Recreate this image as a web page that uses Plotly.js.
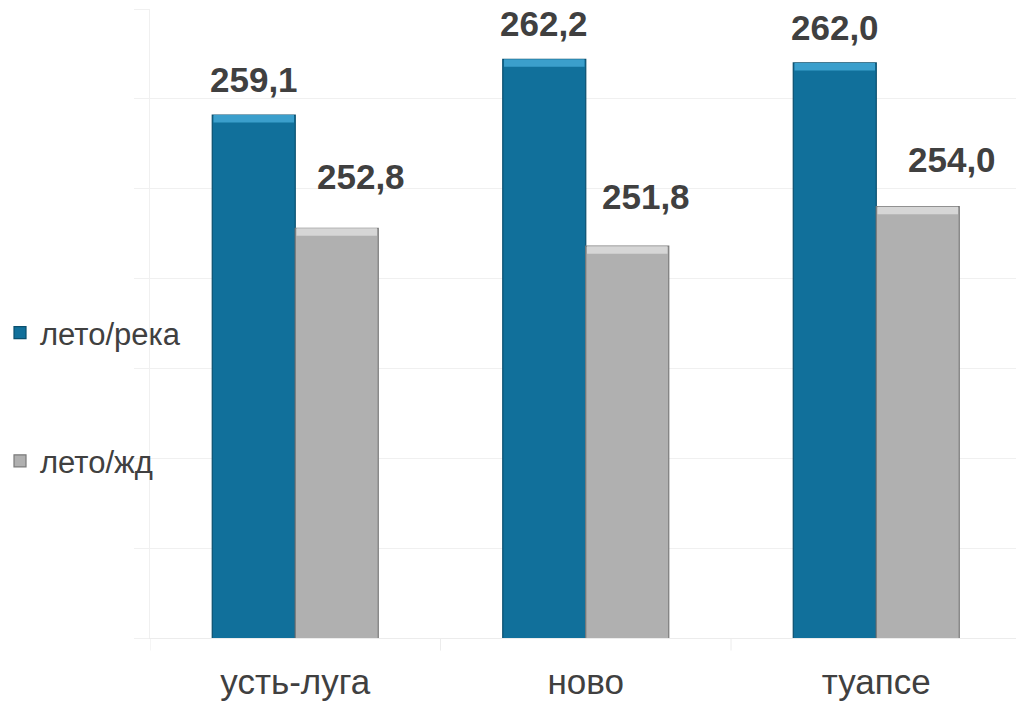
<!DOCTYPE html>
<html>
<head>
<meta charset="utf-8">
<script src="https://cdn.plot.ly/plotly-3.0.1.min.js"></script>
<style>
  html, body { margin: 0; padding: 0; background: #ffffff; }
  #chart { width: 1016px; height: 702px; }
</style>
</head>
<body>
<div id="chart"></div>
<script>
// Ports and summer prices by delivery mode
const categories = ['усть-луга', 'ново', 'туапсе'];
const seriesNames = ['лето/река', 'лето/жд'];
const rekaValues = [259.1, 262.2, 262.0];
const zhdValues = [252.8, 251.8, 254.0];

const FONT = '"Liberation Sans", Arial, sans-serif';
const TEXT = '#404040';
const BAR_W = 0.2857;        // width of one bar in category units
const BEVEL = 0.42;          // height of the lighter top bevel, value units
const ZHD_LABEL_DX = [24, 19, 34];   // horizontal nudge of the grey labels, px
const ZHD_LABEL_DY = [30, 28, 26];   // lift of the grey labels above the bar, px

const xIdx = categories.map((_, i) => i);
const fmt = v => v.toFixed(1).replace('.', ',');

function mainBar(name, values, offset, fill, edge) {
  return {
    type: 'bar', name: name, x: xIdx, y: values,
    width: BAR_W, offset: offset,
    marker: { color: fill, line: { color: edge, width: 1.2 } },
    hoverinfo: 'skip', legendgroup: name
  };
}
function bevelBar(values, offset, fill) {
  return {
    type: 'bar', x: xIdx, y: values.map(() => BEVEL),
    base: values.map(v => v - BEVEL),
    width: BAR_W * 0.97, offset: offset + BAR_W * 0.015,
    marker: { color: fill, line: { width: 0 } },
    showlegend: false, hoverinfo: 'skip'
  };
}

const traces = [
  mainBar(seriesNames[0], rekaValues, -BAR_W, '#11709b', '#0a4f6e'),
  mainBar(seriesNames[1], zhdValues, 0, '#b0b0b0', '#7a7a7a'),
  bevelBar(rekaValues, -BAR_W, '#3b9fcc'),
  bevelBar(zhdValues, 0, '#d6d6d6')
];

// value labels above the bars
const labelFont = { family: FONT, size: 35, color: TEXT, weight: 'bold' };
const annotations = [];
rekaValues.forEach((v, i) => annotations.push({
  x: i - BAR_W / 2, y: v, xref: 'x', yref: 'y', text: fmt(v), showarrow: false,
  yanchor: 'bottom', yshift: 14, font: labelFont
}));
zhdValues.forEach((v, i) => annotations.push({
  x: i + BAR_W / 2, y: v, xref: 'x', yref: 'y', text: fmt(v), showarrow: false,
  yanchor: 'bottom', yshift: ZHD_LABEL_DY[i], xshift: ZHD_LABEL_DX[i], font: labelFont
}));

const layout = {
  width: 1016, height: 702,
  margin: { l: 150, r: 0, t: 9, b: 64 },
  paper_bgcolor: '#ffffff', plot_bgcolor: '#ffffff',
  barmode: 'overlay',
  font: { family: FONT, color: TEXT },
  showlegend: true,
  legend: {
    x: -0.1732, xanchor: 'left', y: 0.528, yanchor: 'top',
    font: { family: FONT, size: 31, color: TEXT },
    tracegroupgap: 85, itemwidth: 30, bgcolor: 'rgba(0,0,0,0)'
  },
  xaxis: {
    range: [-0.5, 2.481], tickmode: 'array', tickvals: xIdx, ticktext: categories,
    tickfont: { family: FONT, size: 35, color: TEXT },
    showgrid: false, zeroline: false, automargin: false,
    showline: true, linecolor: '#ececec', linewidth: 1,
    ticks: '', ticklabelstandoff: 13, fixedrange: true
  },
  yaxis: {
    range: [230, 265], dtick: 5, showticklabels: false,
    showgrid: true, gridcolor: '#f0f0f0', gridwidth: 1, automargin: false,
    zeroline: false, showline: true, linecolor: '#f0f0f0',
    ticks: 'outside', ticklen: 15, tickcolor: '#f0f0f0', fixedrange: true
  },
  // category dividers below the axis
  shapes: [0, 1, 2].map(i => ({
    type: 'line', xref: 'x', yref: 'paper', x0: i - 0.5, x1: i - 0.5, y0: 0, y1: -0.02,
    line: { color: '#ececec', width: 1 }
  })),
  annotations: annotations
};

Plotly.newPlot('chart', traces, layout, { displayModeBar: false, staticPlot: true });
</script>
</body>
</html>
